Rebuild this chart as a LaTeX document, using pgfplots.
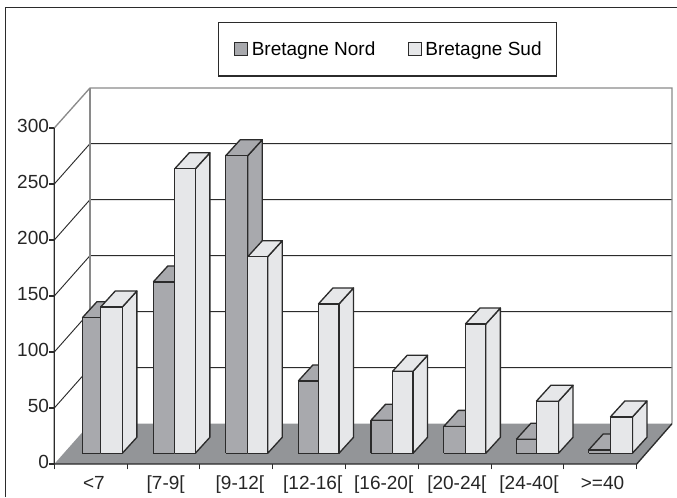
\documentclass[border=0pt]{standalone}
\usepackage{fontspec}
\setmainfont{Liberation Sans}
\usepackage{pgfplots}
\pgfplotsset{compat=1.18}

\definecolor{dkbar}{HTML}{A8A9AD}
\definecolor{ltbar}{HTML}{E6E7E9}
\definecolor{floorc}{HTML}{939598}
\definecolor{edgec}{HTML}{2B2B2B}
\definecolor{wallc}{HTML}{8A8A8A}

\pgfplotsset{
  face/.style={forget plot,draw=edgec,line width=1pt,line join=round,mark=none},
  gridl/.style={forget plot,draw=edgec,line width=0.7pt,mark=none},
  walll/.style={forget plot,draw=wallc,line width=1pt,mark=none},
}

% one 3D bar: left x, right x, value, colour (depth 0.2 across, 14.3 up, foot at 9.55)
\newcommand{\cube}[4]{%
  \pgfmathsetmacro{\xb}{#2+0.2}%
  \pgfmathsetmacro{\xa}{#1+0.2}%
  \pgfmathsetmacro{\vt}{#3+9.55}%
  \pgfmathsetmacro{\vb}{#3+9.55+14.3}%
  \edef\drawcube{%
    \noexpand\addplot[face,fill=#4] coordinates {(#2,9.55)(\xb,23.85)(\xb,\vb)(#2,\vt)(#2,9.55)};
    \noexpand\addplot[face,fill=#4] coordinates {(#1,\vt)(#2,\vt)(\xb,\vb)(\xa,\vb)(#1,\vt)};
    \noexpand\addplot[face,fill=#4] coordinates {(#1,9.55)(#2,9.55)(#2,\vt)(#1,\vt)(#1,9.55)};
  }\drawcube
}

\begin{document}
\begin{tikzpicture}[x=0.75pt,y=0.75pt]
\useasboundingbox (0,0) rectangle (677,497);
\draw[edgec,line width=1.1pt] (5.5,0) -- (5.5,489.5) -- (677,489.5);
\begin{axis}[
    at={(40.725pt,24.75pt)}, anchor=south west,
    scale only axis, width=463.3pt, height=282pt,
    xmin=0, xmax=8.485, ymin=0, ymax=335.7,
    clip=false,
    axis x line*=bottom, axis y line*=left,
    axis line style={draw=none},
    tick align=outside, major tick length=4pt,
    tick style={edgec,line width=0.8pt},
    xtick={0,...,8}, xticklabels={},
    extra x ticks={0.545,1.53,2.55,3.55,4.525,5.53,6.52,7.53},
    extra x tick labels={{<7},{[7-9[},{[9-12[},{[12-16[},{[16-20[},{[20-24[},{[24-40[},{>=40}},
    extra x tick style={major tick length=0pt,
      xticklabel style={yshift=-5.5pt}},
    ytick={0,50,...,300},
    /pgf/number format/assume math mode=true,
    ticklabel style={font=\fontsize{14.25}{16}\selectfont,text=black!85},
    yticklabel style={xshift=3.5pt,yshift=1.5pt},
    legend columns=2,
    legend style={at={(0.2645,1.176)},anchor=north west,
      draw=edgec,line width=0.8pt,
      font=\fontsize{14.25}{16}\selectfont,
      inner xsep=9.2pt,inner ysep=12.2pt,
      /tikz/every even column/.append style={column sep=19.5pt}},
    legend image code/.code={\path[draw=none,fill=none] (0pt,0pt) -- (14pt,0pt);\draw[#1] (3.3pt,-4.7pt) rectangle (12.8pt,4.7pt);},
]
% walls, grid and floor
\addplot[gridl] coordinates {(0,50)(0.49,86)(8.485,86)};
\addplot[gridl] coordinates {(0,100)(0.49,136)(8.485,136)};
\addplot[gridl] coordinates {(0,150)(0.49,186)(8.485,186)};
\addplot[gridl] coordinates {(0,200)(0.49,236)(8.485,236)};
\addplot[gridl] coordinates {(0,250)(0.49,286)(8.485,286)};
\addplot[walll] coordinates {(0,300)(0.49,335.7)(8.485,335.7)(8.485,36)};
\addplot[walll] coordinates {(0.49,36)(0.49,335.7)};
\addplot[forget plot,fill=floorc,draw=none] coordinates {(0,0)(8,0)(8.485,36)(0.49,36)(0,0)};
\addplot[forget plot,draw=edgec,line width=1pt,mark=none] coordinates {(0,300)(0,0)(8,0)(8.485,36)};
% bars: left, right, value
\cube{0.385}{0.637}{121}{dkbar}
\cube{0.637}{0.934}{130.6}{ltbar}
\cube{1.36}{1.654}{153}{dkbar}
\cube{1.654}{1.937}{254}{ltbar}
\cube{2.355}{2.657}{265.7}{dkbar}
\cube{2.657}{2.931}{175.5}{ltbar}
\cube{3.352}{3.627}{64.6}{dkbar}
\cube{3.627}{3.91}{133.3}{ltbar}
\cube{4.35}{4.647}{29.5}{dkbar}
\cube{4.647}{4.927}{73.2}{ltbar}
\cube{5.35}{5.646}{24}{dkbar}
\cube{5.646}{5.927}{115.4}{ltbar}
\cube{6.346}{6.62}{12.5}{dkbar}
\cube{6.62}{6.925}{46.4}{ltbar}
\cube{7.34}{7.637}{3}{dkbar}
\cube{7.637}{7.94}{32.4}{ltbar}
\addlegendimage{draw=edgec,line width=0.7pt,fill=dkbar}
\addlegendentry{Bretagne Nord}
\addlegendimage{draw=edgec,line width=0.7pt,fill=ltbar}
\addlegendentry{Bretagne Sud}
\end{axis}
\end{tikzpicture}
\end{document}
